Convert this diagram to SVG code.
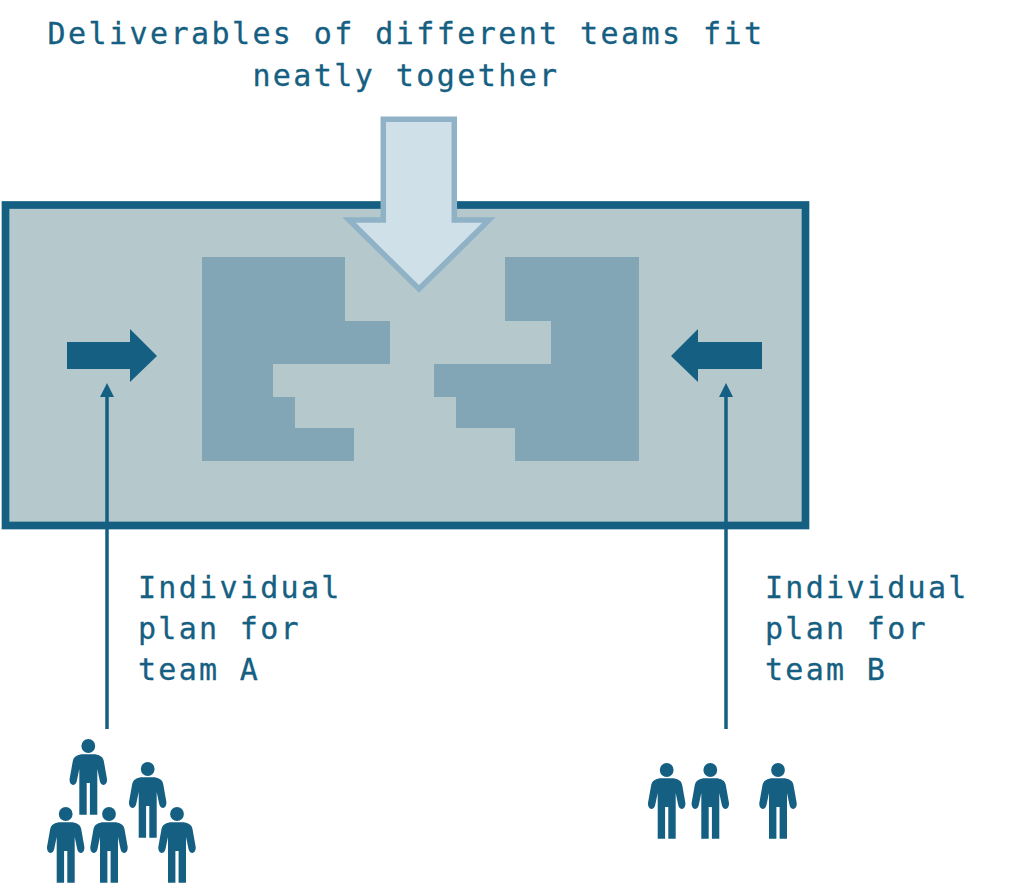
<svg xmlns="http://www.w3.org/2000/svg" width="1024" height="887" viewBox="0 0 1024 887">
<style>
.t{font-family:"DejaVu Sans Mono","Liberation Mono",monospace;font-size:30px;fill:#156082;stroke:#156082;stroke-width:.3;letter-spacing:2.3px}
.h{letter-spacing:2.42px}
.d{fill:#156082}
.m{fill:#82a6b6}
</style>
<defs>
<g id="person" class="d">
<circle cx="0" cy="0" r="6.9"/>
<path d="M-7 8.300H7Q11 9 13.500 11Q15 12.500 15.500 15L18.700 33Q19 38 15.500 39Q12.500 39 11.500 35L9 23V68.800H1.600V37H-1.600V68.800H-9V23L-11.500 35Q-12.500 39 -15.500 39Q-19 38 -18.700 33L-15.500 15Q-15 12.500 -13.500 11Q-11 9 -7 8.300Z"/>
</g>
<marker id="tip" markerUnits="userSpaceOnUse" markerWidth="14" markerHeight="15" refX="0" refY="7" orient="auto"><path d="M0 0L14 7L0 14Z" fill="#156082"/></marker>
</defs>
<g id="frame"><rect x="5.500" y="205" width="800" height="320.500" fill="#b5c8cc" stroke="#156082" stroke-width="7.700"/></g>
<g id="block-left"><path class="m" d="M202 257H345V321H390V364H273V397H295V428H354V461H202Z"/></g>
<g id="block-right"><path class="m" d="M505 257H639V461H515V428H456V397H434V364H551V321H505Z"/></g>
<g id="big-arrow"><path d="M383.300 119.300H454.300V220H489L419 289L349 220H383.300Z" fill="#d0e0e8" stroke="#8fb2c6" stroke-width="5.500"/></g>
<g id="arrow-right"><path class="d" d="M67 342H130V329L157 356L130 382V369H67Z"/></g>
<g id="arrow-left"><path class="d" d="M762 342H698V329L671 356L698 382V369H762Z"/></g>
<g id="connectors" fill="none" stroke="#156082" stroke-width="3.500">
<line x1="107" y1="729" x2="107" y2="397" marker-end="url(#tip)"/>
<line x1="726" y1="729" x2="726" y2="397" marker-end="url(#tip)"/>
</g>
<g id="title"><text class="t h" x="406" y="44" text-anchor="middle">Deliverables of different teams fit</text><text class="t h" x="406" y="86" text-anchor="middle">neatly together</text></g>
<g id="label-a"><text class="t" x="138" y="598">Individual</text><text class="t" x="138" y="639">plan for</text><text class="t" x="138" y="680">team A</text></g>
<g id="label-b"><text class="t" x="765" y="598">Individual</text><text class="t" x="765" y="639">plan for</text><text class="t" x="765" y="680">team B</text></g>
<g id="team-a">
<use href="#person" x="88.300" y="746"/><use href="#person" x="147.700" y="769"/><use href="#person" x="65.700" y="814"/><use href="#person" x="109" y="814"/><use href="#person" x="177" y="814"/>
</g>
<g id="team-b">
<use href="#person" x="666.700" y="770"/><use href="#person" x="710.300" y="770"/><use href="#person" x="778" y="770"/>
</g>
</svg>
